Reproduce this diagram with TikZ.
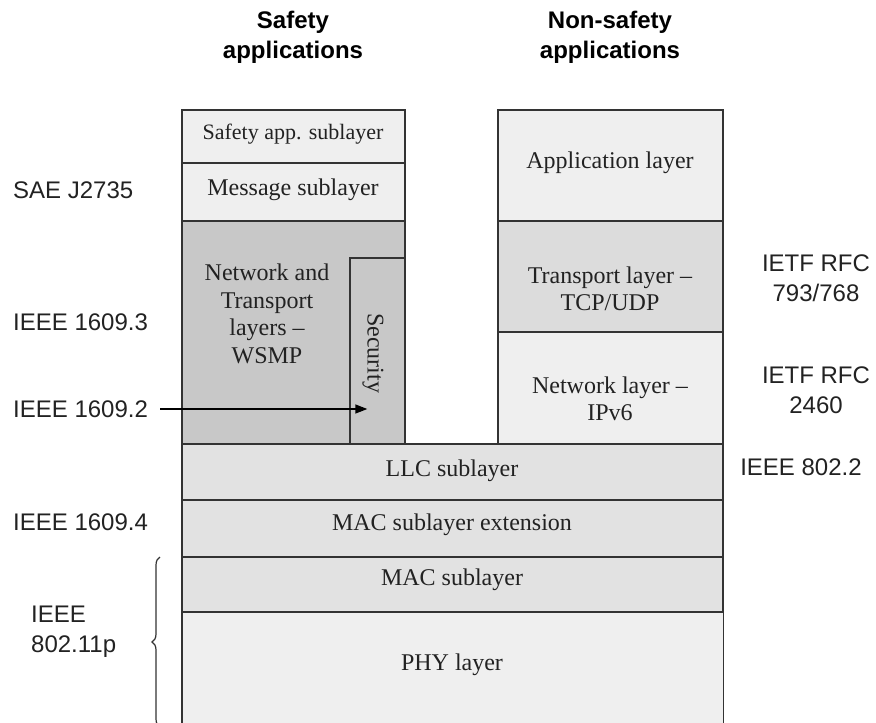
\documentclass[tikz,border=0pt]{standalone}
\usepackage{fontspec}
\setmainfont{Liberation Serif}
\newfontfamily\lsans{Liberation Sans}
\usetikzlibrary{arrows.meta,decorations.pathreplacing}
\definecolor{edge}{HTML}{333333}
\definecolor{lite}{HTML}{EFEFEF}
\definecolor{midg}{HTML}{E2E2E2}
\definecolor{trg}{HTML}{DCDCDC}
\definecolor{dark}{HTML}{C8C8C8}
\definecolor{ink}{HTML}{222222}
\begin{document}
\begin{tikzpicture}[x=1pt,y=-1pt,
  box/.style={draw=edge, line width=1.4pt, inner sep=0pt},
  txt/.style={inner sep=0pt, align=center, text=ink, font=\fontsize{24}{27.5}\selectfont},
  lab/.style={inner sep=0pt, align=left, text=ink, font=\lsans\fontsize{24}{30}\selectfont},
  labc/.style={inner sep=0pt, align=center, text=ink, font=\lsans\fontsize{24}{30}\selectfont},
  ttl/.style={inner sep=0pt, align=center, text=black, font=\lsans\bfseries\fontsize{24}{30}\selectfont}]
\useasboundingbox (0,0) rectangle (876,723);
% titles
\node[ttl] (t1) at (293,37) {Safety\\applications};
\node[ttl] (t2) at (610,37) {Non-safety\\applications};
% left column
\node[box, fill=lite, minimum width=223pt, minimum height=53pt] (sa) at (293.5,136.5) {};
\node[txt, font=\fontsize{22}{26}\selectfont] (sat) at (293,134) {Safety app. sublayer};
\node[box, fill=lite, minimum width=223pt, minimum height=58pt] (ms) at (293.5,192) {};
\node[txt] (mst) at (293,190) {Message sublayer};
\node[box, fill=dark, minimum width=223pt, minimum height=223pt] (nt) at (293.5,332.5) {};
\node[txt] (ntt) at (267,314) {Network and\\Transport\\layers --\\WSMP};
\node[box, fill=dark, minimum width=55pt, minimum height=186pt] (sec) at (377.5,351) {};
\node[txt, rotate=-90] (sect) at (373,353) {Security};
% right column
\node[box, fill=lite, minimum width=225pt, minimum height=111pt] (app) at (610.5,165.5) {};
\node[txt] (appt) at (610,163) {Application layer};
\node[box, fill=trg, minimum width=225pt, minimum height=111pt] (tr) at (610.5,276.5) {};
\node[txt] (trt) at (610,289) {Transport layer --\\TCP/UDP};
\node[box, fill=lite, minimum width=225pt, minimum height=112pt] (nw) at (610.5,388) {};
\node[txt] (nwt) at (610,399) {Network layer --\\IPv6};
% full width
\node[box, fill=midg, minimum width=541pt, minimum height=56pt] (llc) at (452.5,472) {};
\node[txt] (llct) at (452,471) {LLC sublayer};
\node[box, fill=midg, minimum width=541pt, minimum height=57pt] (mx) at (452.5,528.5) {};
\node[txt] (mxt) at (452,525) {MAC sublayer extension};
\node[box, fill=midg, minimum width=541pt, minimum height=55pt] (mac) at (452.5,584.5) {};
\node[txt] (mact) at (452,580) {MAC sublayer};
\node[inner sep=0pt, fill=lite, minimum width=541pt, minimum height=111pt] (phy) at (452.5,667.5) {};
\draw[draw=edge, line width=1.4pt] (phy.north west) -- (phy.south west);
\draw[draw=edge, line width=1.4pt] (phy.north east) -- (phy.south east);
\draw[draw=edge, line width=1.4pt] (mac.south west) -- (mac.south east);
\node[txt] (phyt) at (452,665) {PHY layer};
% left labels
\node[lab, anchor=west] (l1) at (13,190) {SAE J2735};
\node[lab, anchor=west] (l2) at (13,322) {IEEE 1609.3};
\node[lab, anchor=west] (l3) at (13,409) {IEEE 1609.2};
\node[lab, anchor=west] (l4) at (13,522) {IEEE 1609.4};
\node[lab, anchor=west] (l5) at (31,632) {IEEE\\802.11p};
% right labels
\node[labc] (r1) at (816,278) {IETF RFC\\793/768};
\node[labc] (r2) at (816,390) {IETF RFC\\2460};
\node[labc] (r3) at (801,467) {IEEE 802.2};
% arrow
\draw[draw=black, line width=1.4pt, -{Triangle[length=12pt,width=9pt]}] ([xshift=12pt]l3.east) -- ([xshift=18pt]sec.west |- l3.east);
% brace
\coordinate (bb) at (160,727);
\coordinate (bt) at (160,557);
\draw[draw=edge, line width=1.2pt, decorate, decoration={brace, amplitude=8pt}] (bb) -- (bt);
\end{tikzpicture}
\end{document}
